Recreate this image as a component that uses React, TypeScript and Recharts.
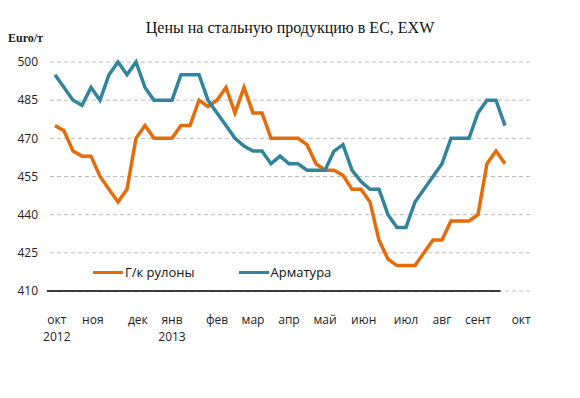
import {
  ComposedChart,
  Line,
  XAxis,
  YAxis,
  CartesianGrid,
  Legend,
  ReferenceLine,
} from 'recharts';

// weekly prices, Oct 2012 – Sep 2013, Euro/t
const coils = [
  475, 473, 465, 463, 463, 455, 450, 445, 450, 470, 475, 470, 470, 470, 475, 475, 485,
  482.5, 485, 490, 480, 490, 480, 480, 470, 470, 470, 470, 467.5, 460, 457.5, 457.5,
  455.5, 450, 450, 445, 430, 422.5, 420, 420, 420, 425, 430, 430, 437.5, 437.5, 437.5,
  440, 460, 465, 460,
];
const rebar = [
  495, 490, 485, 483, 490, 485, 495, 500, 495, 500, 490, 485, 485, 485, 495, 495, 495,
  485, 480, 475, 470, 467, 465, 465, 460, 463, 460, 460, 457.5, 457.5, 457.5, 465,
  467.5, 457.5, 453, 450, 450, 440, 435, 435, 445, 450, 455, 460, 470, 470, 470, 480,
  485, 485, 475,
];

// month labels and where they sit (in weeks from the first point)
const monthLabels = ['окт', 'ноя', 'дек', 'янв', 'фев', 'мар', 'апр', 'май', 'июн', 'июл', 'авг', 'сент', 'окт'];
const monthPos = [0.2, 4.2, 9.2, 13, 18, 22, 26, 30, 34.3, 39, 43, 47, 51.8];
const yearLabels: Record<number, string> = { 0: '2012', 3: '2013' };
const yTicks = [410, 425, 440, 455, 470, 485, 500];

const data = coils.map((v, i) => ({ week: i, coils: v, rebar: rebar[i] }));

const ORANGE = '#E46C0A';
const TEAL = '#31849B';
const FONT = '"Open Sans", sans-serif';

const MonthTick = (props: any) => {
  const { x, y, payload } = props;
  const idx = monthPos.indexOf(payload.value);
  return (
    <g>
      <text x={x} y={y + 25} textAnchor="middle" fontSize={12} fontFamily={FONT} fill="#222">
        {monthLabels[idx]}
      </text>
      {yearLabels[idx] && (
        <text x={x} y={y + 42} textAnchor="middle" fontSize={12} fontFamily={FONT} fill="#222">
          {yearLabels[idx]}
        </text>
      )}
    </g>
  );
};

const renderLegend = () => (
  <div style={{ display: 'flex', alignItems: 'center', fontFamily: FONT, fontSize: 13, color: '#111' }}>
    <span style={{ display: 'inline-block', width: 30, height: 3, background: ORANGE, marginRight: 2 }} />
    <span style={{ marginRight: 44 }}>Г/к рулоны</span>
    <span style={{ display: 'inline-block', width: 30, height: 3, background: TEAL, marginRight: 2 }} />
    <span>Арматура</span>
  </div>
);

export default function App() {
  return (
    <div style={{ position: 'absolute', left: 0, top: 0, width: 580, height: 398, background: '#fff' }}>
      <div
        style={{
          position: 'absolute',
          top: 19,
          width: 580,
          textAlign: 'center',
          fontFamily: '"Liberation Serif", serif',
          fontSize: 16,
          color: '#111',
        }}
      >
        Цены на стальную продукцию в ЕС, EXW
      </div>
      <div
        style={{
          position: 'absolute',
          top: 31,
          left: 8,
          fontFamily: '"Liberation Serif", serif',
          fontWeight: 'bold',
          fontSize: 12,
          color: '#222',
        }}
      >
        Euro/т
      </div>
      <ComposedChart width={580} height={398} data={data} margin={{ top: 62, right: 50, bottom: 49, left: 10 }}>
        <CartesianGrid vertical={false} stroke="#bdbdbd" strokeDasharray="4 3" />
        <XAxis
          dataKey="week"
          type="number"
          domain={[-0.556, 52.78]}
          allowDataOverflow
          ticks={monthPos}
          interval={0}
          height={40}
          axisLine={false}
          tickLine={false}
          tick={<MonthTick />}
        />
        <YAxis
          domain={[410, 500]}
          ticks={yTicks}
          width={40}
          axisLine={false}
          tickLine={false}
          tickMargin={6}
          tick={{ fontSize: 12, fontFamily: FONT, fill: '#222' }}
        />
        <ReferenceLine
          segment={[{ x: -0.9, y: 410 }, { x: 49.5, y: 410 }]}
          stroke="#000"
          strokeWidth={1.5}
          ifOverflow="visible"
        />
        <Legend wrapperStyle={{ top: 263, left: 93, width: 300 }} content={renderLegend} />
        <Line
          type="linear"
          dataKey="coils"
          stroke={ORANGE}
          strokeWidth={3.5}
          dot={false}
          isAnimationActive={false}
        />
        <Line
          type="linear"
          dataKey="rebar"
          stroke={TEAL}
          strokeWidth={3.5}
          dot={false}
          isAnimationActive={false}
        />
      </ComposedChart>
    </div>
  );
}
